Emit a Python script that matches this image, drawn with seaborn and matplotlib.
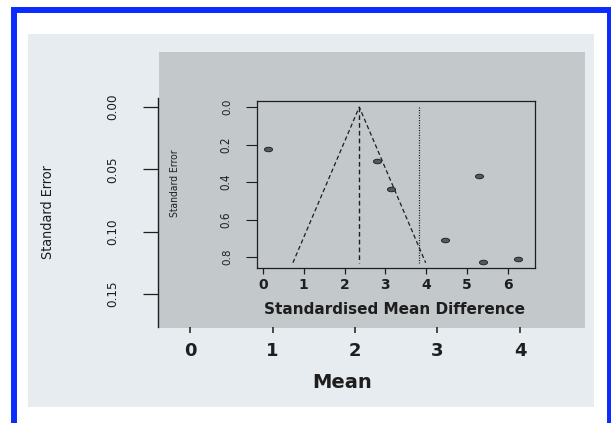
import numpy as np
import pandas as pd
import matplotlib
matplotlib.use("Agg")
import matplotlib.pyplot as plt
from matplotlib.patches import Rectangle
from matplotlib.path import Path
import seaborn as sns

# ---------------- data ----------------
smd = [0.13, 2.79, 3.13, 5.30, 4.47, 5.40, 6.25]          # standardised mean difference
se = [0.222, 0.29, 0.438, 0.365, 0.71, 0.827, 0.81]       # standard error
summary_smd = 2.36          # pooled estimate (dashed vertical + funnel apex)
funnel_se_max = 0.83        # bottom of funnel
other_line = 3.83           # dotted vertical reference line

outer_xticks = [0, 1, 2, 3, 4]
outer_yticks = [0.00, 0.05, 0.10, 0.15]
outer_yticklabels = ["0.00", "0.05", "0.10", "0.15"]
inner_xticks = [0, 1, 2, 3, 4, 5, 6]
inner_yticks = [0.0, 0.2, 0.4, 0.6, 0.8]
inner_yticklabels = ["0.0", "0.2", "0.4", "0.6", "0.8"]

# ---------------- style ----------------
sns.set_style("white")
plt.rcParams["font.family"] = ["DejaVu Sans"]
NARROW = ["Liberation Sans Narrow", "DejaVu Sans"]
BLUE = "#0a2cff"
LIGHT = "#e6ecef"
GRAY = "#c3c8cb"
INK = "#1e1e1e"

W, H = 611, 423
fig = plt.figure(figsize=(W / 100, H / 100), dpi=100)
fig.patch.set_facecolor("white")


def fbox(x0, y0, x1, y1):
    return [x0 / W, 1 - y1 / H, (x1 - x0) / W, (y1 - y0) / H]


def add_rect(x0, y0, x1, y1, **kw):
    r = Rectangle((x0 / W, 1 - y1 / H), (x1 - x0) / W, (y1 - y0) / H,
                  transform=fig.transFigure, **kw)
    fig.add_artist(r)
    return r


add_rect(13.5, 10, 609.5, 440, fill=False, edgecolor=BLUE, linewidth=4.3, zorder=-5)
add_rect(28, 34, 594, 407, facecolor=LIGHT, edgecolor="none", zorder=-4)
add_rect(159, 52, 585, 328, facecolor=GRAY, edgecolor="none", zorder=-3)

# ---------------- outer axes ----------------
ax = fig.add_axes(fbox(158, 98, 585, 327))
ax.set_facecolor("none")
ax.set_xlim(-0.388, 4.788)
ax.set_ylim(0.1766, -0.0072)
for s in ["top", "right", "bottom"]:
    ax.spines[s].set_visible(False)
ax.spines["left"].set_color(INK)
ax.spines["left"].set_linewidth(1.0)
ax.set_xticks(outer_xticks)
ax.set_xticklabels([str(t) for t in outer_xticks])
ax.set_yticks(outer_yticks)
ax.set_yticklabels(outer_yticklabels)
ax.tick_params(axis="x", length=4.0, width=1.1, color=INK, pad=7,
               labelsize=13, labelcolor=INK, bottom=True)
ax.tick_params(axis="y", length=10.8, width=0.9, color=INK, pad=17,
               labelcolor=INK, left=True)
for lab in ax.get_xticklabels():
    lab.set_fontweight("bold")
ax.set_xlabel("Mean", fontsize=14, fontweight="bold", color=INK)
ax.xaxis.label.set_va("center")
ax.xaxis.set_label_coords((342 - 158) / 427, (327 - 382) / 229)
ax.set_ylabel("Standard Error", color=INK)
ax.yaxis.label.set_va("center")
ax.yaxis.set_label_coords((48 - 158) / 427, (327 - 212) / 229)

# ---------------- inner funnel plot ----------------
ai = fig.add_axes(fbox(257, 101, 535, 268))
ai.set_facecolor("none")
ai.set_xlim(-0.147, 6.667)
ai.set_ylim(0.858, -0.0322)
for s in ai.spines.values():
    s.set_color(INK)
    s.set_linewidth(0.9)

lo = summary_smd - 1.96 * funnel_se_max
hi = summary_smd + 1.96 * funnel_se_max
ai.plot([lo, summary_smd, hi], [funnel_se_max, 0, funnel_se_max],
        color=INK, lw=0.9, linestyle=(0, (3.4, 2.2)))
ai.plot([summary_smd, summary_smd], [0, funnel_se_max],
        color=INK, lw=1.0, linestyle=(0, (3.4, 2.2)))
ai.plot([other_line, other_line], [0, funnel_se_max],
        color=INK, lw=0.9, linestyle=(0, (0.9, 1.1)))

theta = np.linspace(0, 2 * np.pi, 41)
ellipse = Path(np.column_stack([1.8 * np.cos(theta), np.sin(theta)]))
df = pd.DataFrame({"smd": smd, "se": se})
sns.scatterplot(data=df, x="smd", y="se", ax=ai, marker=ellipse, s=34,
                color="#535a5e", edgecolor="#262626", linewidth=0.7, zorder=5)

ai.set_xticks(inner_xticks)
ai.set_xticklabels([str(t) for t in inner_xticks])
ai.set_yticks(inner_yticks)
ai.set_yticklabels(inner_yticklabels)
ai.tick_params(axis="x", length=4.3, width=0.9, color=INK, pad=3,
               labelsize=10, labelcolor=INK, bottom=True)
ai.tick_params(axis="y", length=8, width=0.8, color=INK, pad=10,
               labelcolor=INK, left=True)
for lab in ai.get_xticklabels():
    lab.set_fontweight("bold")
ai.set_xlabel("Standardised Mean Difference", fontsize=11,
              fontweight="bold", color=INK)
ai.xaxis.label.set_va("center")
ai.xaxis.set_label_coords((395 - 257) / 278, (268 - 309) / 167)
ai.set_ylabel("Standard Error", color=INK)
ai.yaxis.label.set_va("center")
ai.yaxis.set_label_coords((175 - 257) / 278, (268 - 183) / 167)

# ---- rotated (condensed-looking) texts: size them to the reference length ----
renderer = fig.canvas.get_renderer()


def fit_rotated(txt, target_px):
    txt.set_family(NARROW)
    txt.set_fontstretch("condensed")
    txt.set_rotation(90)
    txt.set_va("center")
    txt.set_fontsize(10)
    length = txt.get_window_extent(renderer).height
    txt.set_fontsize(10 * target_px / length)


fit_rotated(ax.yaxis.label, 94)
fit_rotated(ai.yaxis.label, 68)
for lab in ax.get_yticklabels():
    fit_rotated(lab, 27)
for lab in ai.get_yticklabels():
    fit_rotated(lab, 16.5)

fig.savefig("out.png", dpi=100, facecolor="white")
